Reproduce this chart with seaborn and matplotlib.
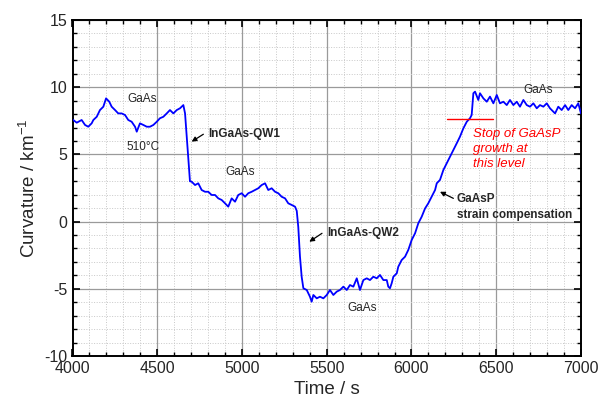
import numpy as np
import pandas as pd
import matplotlib
matplotlib.use("Agg")
import matplotlib.pyplot as plt
from matplotlib.ticker import MultipleLocator
import seaborn as sns

# curvature trace (time in s, curvature in 1/km)
time_s = [
    4000, 4025, 4054, 4074, 4093, 4113, 4123, 4143, 4162, 4182, 4198, 4217,
    4231, 4251, 4270, 4290, 4310, 4329, 4349, 4369, 4379, 4398, 4418, 4438,
    4457, 4477, 4497, 4516, 4536, 4556, 4575, 4595, 4615, 4634, 4654, 4664,
    4674, 4683, 4693, 4703, 4723, 4742, 4762, 4782, 4801, 4821, 4841, 4860,
    4880, 4900, 4919, 4939, 4959, 4978, 4998, 5018, 5037, 5057, 5077, 5096,
    5116, 5136, 5155, 5175, 5195, 5214, 5234, 5254, 5273, 5293, 5313, 5323,
    5332, 5342, 5352, 5362, 5382, 5401, 5411, 5421, 5441, 5460, 5480, 5500,
    5519, 5539, 5559, 5578, 5598, 5618, 5637, 5657, 5677, 5696, 5716, 5736,
    5755, 5775, 5795, 5814, 5834, 5854, 5863, 5873, 5883, 5893, 5913, 5922,
    5942, 5962, 5981, 6001, 6021, 6040, 6060, 6080, 6099, 6119, 6139, 6149,
    6168, 6188, 6208, 6227, 6247, 6267, 6286, 6306, 6326, 6345, 6355, 6365,
    6375, 6394, 6404, 6424, 6444, 6463, 6483, 6503, 6522, 6542, 6562, 6581,
    6601, 6621, 6640, 6660, 6680, 6699, 6719, 6739, 6758, 6778, 6798, 6817,
    6847, 6866, 6886, 6906, 6925, 6945, 6965, 6984, 7000,
]
curvature = [
    7.60, 7.36, 7.56, 7.19, 7.06, 7.31, 7.56, 7.80, 8.30, 8.55, 9.17, 8.92,
    8.55, 8.30, 8.05, 8.05, 7.93, 7.56, 7.43, 7.06, 6.69, 7.31, 7.19, 7.06,
    7.06, 7.19, 7.43, 7.69, 7.80, 8.05, 8.30, 8.05, 8.30, 8.43, 8.67, 8.05,
    6.30, 4.70, 3.00, 2.97, 2.72, 2.85, 2.35, 2.22, 2.22, 1.98, 1.98, 1.73,
    1.61, 1.36, 1.11, 1.73, 1.48, 1.98, 2.11, 1.85, 2.11, 2.22, 2.35, 2.48,
    2.72, 2.85, 2.35, 2.48, 2.22, 2.11, 1.85, 1.73, 1.36, 1.24, 1.11, 0.80,
    -0.40, -2.60, -4.10, -4.96, -5.09, -5.59, -5.96, -5.46, -5.71, -5.59, -5.71, -5.46,
    -5.09, -5.46, -5.21, -5.09, -4.84, -5.09, -4.72, -4.84, -4.22, -5.09, -4.35, -4.22,
    -4.35, -4.10, -4.22, -3.97, -4.35, -4.35, -4.84, -4.96, -4.59, -4.10, -3.85, -3.36,
    -2.86, -2.61, -2.11, -1.37, -0.87, -0.13, 0.36, 0.98, 1.36, 1.85, 2.35, 2.85,
    3.10, 3.84, 4.34, 4.83, 5.33, 5.83, 6.32, 6.94, 7.43, 7.69, 7.93, 9.55,
    9.67, 9.05, 9.55, 9.17, 8.92, 9.30, 8.80, 9.42, 8.80, 8.92, 8.67, 9.05,
    8.67, 8.92, 8.55, 9.05, 8.67, 8.55, 8.80, 8.43, 8.67, 8.55, 8.80, 8.43,
    8.05, 8.55, 8.30, 8.67, 8.30, 8.67, 8.43, 8.80, 8.05,
]

# plain text labels: (text, time, curvature)
labels = [
    ("GaAs", 4410, 9.1),
    ("510°C", 4415, 5.55),
    ("GaAs", 4988, 3.7),
    ("GaAs", 5708, -6.4),
    ("GaAs", 6747, 9.8),
]
# bold labels: (text, time, curvature)
bold_labels = [
    ("InGaAs-QW1", 4800, 6.5),
    ("InGaAs-QW2", 5501, -0.87),
    ("GaAsP\nstrain compensation", 6268, 1.1),
]
# arrows: (tail time, tail curvature, tip time, tip curvature)
arrows = [
    (4772, 6.5, 4703, 5.95),
    (5472, -0.87, 5397, -1.5),
    (6247, 1.73, 6168, 2.22),
]
stop_level = 7.61
stop_span = (6208, 6483)
stop_text = "Stop of GaAsP\ngrowth at\nthis level"

df = pd.DataFrame({"Time": time_s, "Curvature": curvature})

sns.set_style("ticks")
plt.rcParams["font.family"] = ["Liberation Sans", "DejaVu Sans"]
plt.rcParams["mathtext.fontset"] = "custom"
plt.rcParams["mathtext.rm"] = "Liberation Sans"
plt.rcParams["axes.unicode_minus"] = False

fig = plt.figure(figsize=(5.98, 4.05), dpi=100)
ax = fig.add_axes([72.5 / 598, 1 - 356 / 405, (581 - 72.5) / 598, (356 - 20) / 405])

sns.lineplot(data=df, x="Time", y="Curvature", ax=ax, color="#0000ff", lw=1.3, zorder=3)

ax.set_xlim(4000, 7000)
ax.set_ylim(-10, 15)
ax.xaxis.set_major_locator(MultipleLocator(500))
ax.xaxis.set_minor_locator(MultipleLocator(100))
ax.yaxis.set_major_locator(MultipleLocator(5))
ax.yaxis.set_minor_locator(MultipleLocator(1))
ax.grid(which="major", color="#9a9a9a", lw=0.9, ls="-")
ax.grid(which="minor", color="#c8c8c8", lw=0.7, ls=":")
ax.set_axisbelow(True)
ax.tick_params(which="both", direction="in", top=True, right=True, labelsize=11.5, color="black")
ax.tick_params(which="major", length=5, width=1.2)
ax.tick_params(which="minor", length=3, width=1.0)
for s in ax.spines.values():
    s.set_linewidth(1.4)
    s.set_color("black")

ax.set_xlabel("Time / s", fontsize=13.5)
ax.set_ylabel("Curvature / km$^{-1}$", fontsize=13.5)

for txt, tx, ty in labels:
    ax.text(tx, ty, txt, fontsize=8.5, ha="center", va="center")

for txt, tx, ty in bold_labels:
    ax.text(tx, ty, txt, fontsize=8.5, fontweight="bold", ha="left", va="center", linespacing=1.4)

for x0, y0, x1, y1 in arrows:
    ax.annotate("", xy=(x1, y1), xytext=(x0, y0),
                arrowprops=dict(arrowstyle="-|>", color="black", lw=0.9,
                                mutation_scale=7, shrinkA=0, shrinkB=0))

ax.plot(stop_span, [stop_level, stop_level], color="red", lw=1.0, zorder=4)
ax.text(6361, 5.4, stop_text, color="red", fontsize=9.5, style="italic",
        ha="left", va="center", linespacing=1.35)

fig.savefig("out.png", dpi=100)
